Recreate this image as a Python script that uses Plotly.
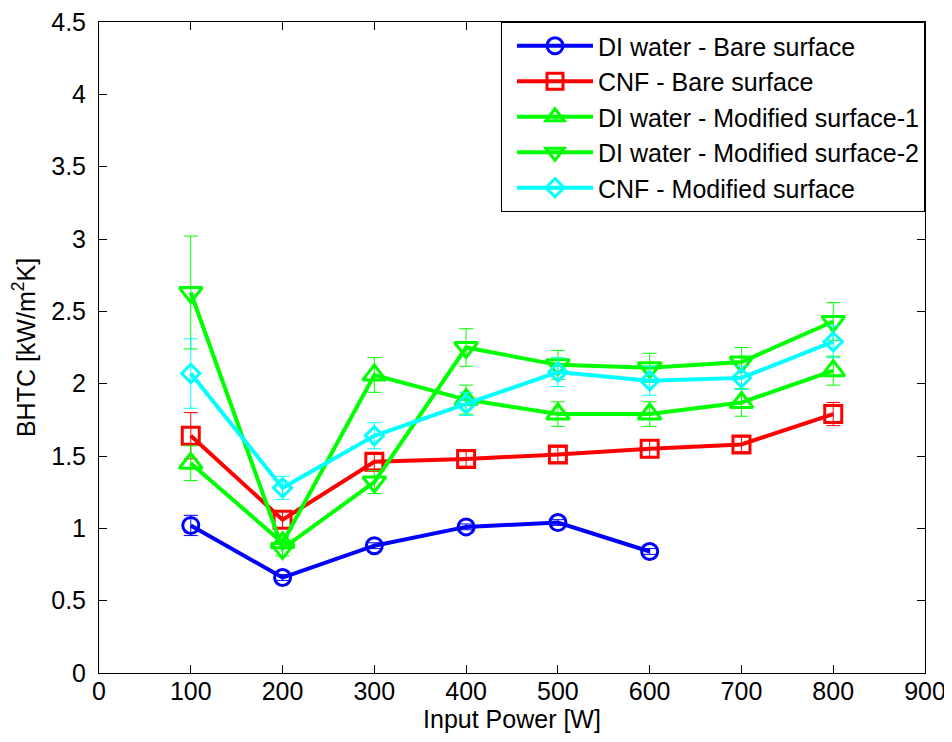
import plotly.graph_objects as go

power = [100, 200, 300, 400, 500, 600, 700, 800]

di_bare = [1.02, 0.66, 0.88, 1.01, 1.04, 0.84]
di_bare_err = [0.07, 0.02, 0.02, 0.02, 0.02, 0.02]

cnf_bare = [1.64, 1.06, 1.46, 1.48, 1.51, 1.55, 1.58, 1.79]
cnf_bare_err = [0.16, 0.06, 0.05, 0.05, 0.05, 0.06, 0.05, 0.08]

di_mod1 = [1.45, 0.90, 2.06, 1.89, 1.79, 1.79, 1.87, 2.09]
di_mod1_err = [0.12, 0.04, 0.12, 0.10, 0.085, 0.085, 0.095, 0.10]

di_mod2 = [2.63, 0.86, 1.32, 2.25, 2.13, 2.11, 2.15, 2.43]
di_mod2_err = [0.39, 0.05, 0.08, 0.13, 0.10, 0.10, 0.10, 0.13]

cnf_mod = [2.07, 1.28, 1.64, 1.86, 2.08, 2.02, 2.04, 2.29]
cnf_mod_err = [0.24, 0.08, 0.09, 0.08, 0.10, 0.10, 0.08, 0.11]

x_ticks = [0, 100, 200, 300, 400, 500, 600, 700, 800, 900]
y_ticks = [0, 0.5, 1, 1.5, 2, 2.5, 3, 3.5, 4, 4.5]
y_tick_text = ["0", "0.5", "1", "1.5", "2", "2.5", "3", "3.5", "4", "4.5"]

series = [
    ("DI water - Bare surface", power[:6], di_bare, di_bare_err, "#0000FF", "circle-open", 16),
    ("CNF - Bare surface", power, cnf_bare, cnf_bare_err, "#FF0000", "square-open", 17),
    ("DI water - Modified surface-1", power, di_mod1, di_mod1_err, "#00FF00", "triangle-up-open", 20),
    ("DI water - Modified surface-2", power, di_mod2, di_mod2_err, "#00FF00", "triangle-down-open", 20),
    ("CNF - Modified surface", power, cnf_mod, cnf_mod_err, "#00FFFF", "diamond-open", 14),
]

FONT = "Liberation Sans, Arial, sans-serif"
FS = 25

fig = go.Figure()
for i, (name, xs, ys, es, col, sym, sz) in enumerate(series):
    fig.add_trace(go.Scatter(
        x=xs, y=ys, name=name, mode="lines+markers",
        line=dict(color=col, width=4),
        marker=dict(symbol=sym, size=sz, color=col, line=dict(color=col, width=3)),
        error_y=dict(type="data", array=es, visible=True, color=col, thickness=1, width=7),
        legendgroup=f"g{i}",
    ))

axis_common = dict(
    showline=True, linecolor="black", linewidth=1, mirror="ticks",
    ticks="inside", ticklen=8, tickcolor="black", tickwidth=1,
    showgrid=False, zeroline=False, automargin=False,
    ticklabeloverflow="allow",
    tickfont=dict(family=FONT, size=FS, color="black"),
    title_font=dict(family=FONT, size=FS, color="black"),
)

fig.update_xaxes(range=[0, 900], tickvals=x_ticks, title_text="Input Power [W]",
                 title_standoff=2, ticklabelstandoff=-4, **axis_common)
fig.update_yaxes(range=[0, 4.5], tickvals=y_ticks, ticktext=y_tick_text,
                 title_text="BHTC [kW/m<sup>2</sup>K]",
                 title_standoff=8, ticklabelstandoff=7, **axis_common)

fig.update_layout(
    width=944, height=734,
    margin=dict(l=91, r=27, t=14, b=69),
    paper_bgcolor="white", plot_bgcolor="white",
    font=dict(family=FONT, size=FS, color="black"),
    showlegend=True,
    legend=dict(
        x=1, y=1, xanchor="right", yanchor="top",
        bgcolor="white", bordercolor="black", borderwidth=1,
        font=dict(family=FONT, size=FS, color="black"),
        itemwidth=76, tracegroupgap=0, itemsizing="trace", indentation=10,
    ),
)

fig.write_html("out.html")
